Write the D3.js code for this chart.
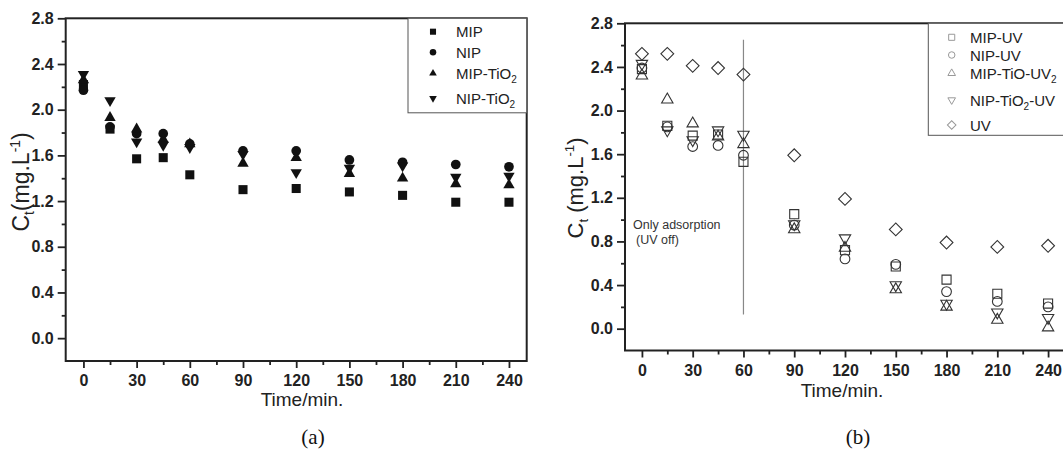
<!DOCTYPE html>
<html>
<head>
<meta charset="utf-8">
<script src="https://cdn.jsdelivr.net/npm/d3@7"></script>
<style>
  body { margin: 0; background: #fff; }
  svg { display: block; font-family: Arial, "Liberation Sans", sans-serif; }
  .tick text { font-size: 16px; font-weight: bold; fill: #222; }
  .tick line { stroke: #222; stroke-width: 1.8; }
</style>
</head>
<body>
<svg id="chart" width="1063" height="453"></svg>
<script>
// sampling times (min)
const times = [0, 15, 30, 45, 60, 90, 120, 150, 180, 210, 240];

// panel (a) - adsorption only
const mip     = [2.22, 1.83, 1.57, 1.58, 1.43, 1.30, 1.31, 1.28, 1.25, 1.19, 1.19];
const nip     = [2.17, 1.85, 1.79, 1.79, 1.70, 1.64, 1.64, 1.56, 1.54, 1.52, 1.50];
const mipTiO2 = [2.26, 1.93, 1.83, 1.74, 1.70, 1.53, 1.58, 1.44, 1.40, 1.35, 1.34];
const nipTiO2 = [2.31, 2.08, 1.72, 1.69, 1.67, 1.61, 1.45, 1.49, 1.51, 1.41, 1.42];

// panel (b) - with UV
const mipUV     = [2.38, 1.86, 1.77, 1.78, 1.53, 1.05, 0.72, 0.57, 0.45, 0.32, 0.23];
const nipUV     = [2.39, 1.85, 1.67, 1.68, 1.59, 0.95, 0.64, 0.59, 0.34, 0.25, 0.20];
const mipTiOUV  = [2.32, 2.10, 1.88, 1.76, 1.69, 0.91, 0.74, 0.36, 0.20, 0.08, 0.01];
const nipTiO2UV = [2.43, 1.82, 1.73, 1.82, 1.78, 0.96, 0.83, 0.40, 0.23, 0.15, 0.10];
const uvOnly    = [2.52, 2.52, 2.41, 2.39, 2.33, 1.59, 1.19, 0.91, 0.79, 0.75, 0.76];

// axis ticks
const xTicks = [0, 30, 60, 90, 120, 150, 180, 210, 240];
const xMinor = [15, 45, 75, 105, 135, 165, 195, 225];
const yTicks = [0, 0.4, 0.8, 1.2, 1.6, 2.0, 2.4, 2.8];
const yMinor = [0.2, 0.6, 1.0, 1.4, 1.8, 2.2, 2.6];

const svg = d3.select("#chart");

// marker shapes
const shapes = {
  square:   {type: d3.symbolSquare,   size: 82, rot: 0},
  circle:   {type: d3.symbolCircle,   size: 74, rot: 0},
  up:       {type: d3.symbolTriangle, size: 56, rot: 0},
  down:     {type: d3.symbolTriangle, size: 56, rot: 180},
  diamond:  {type: d3.symbolSquare,   size: 82, rot: 45}
};

function marker(g, shape, scale) {
  const s = shapes[shape];
  return g.append("path")
    .attr("d", d3.symbol().type(s.type).size(s.size * (scale || 1))())
    .attr("transform", `rotate(${s.rot})`);
}

function drawPanel(p) {
  const x = d3.scaleLinear().domain([-10, 250]).range([p.left, p.right]);
  const y = d3.scaleLinear().domain([-0.2, 2.8]).range([p.bottom, p.top]);
  const g = svg.append("g");

  // axes
  g.append("g").attr("transform", `translate(0,${p.bottom})`)
    .call(d3.axisBottom(x).tickValues(xTicks).tickSize(7).tickPadding(7).tickFormat(d3.format("d")))
    .call(a => a.select(".domain").remove());
  g.append("g").attr("transform", `translate(0,${p.bottom})`)
    .call(d3.axisBottom(x).tickValues(xMinor).tickSize(4).tickFormat(""))
    .call(a => a.select(".domain").remove());
  g.append("g").attr("transform", `translate(${p.left},0)`)
    .call(d3.axisLeft(y).tickValues(yTicks).tickSize(8).tickPadding(4).tickFormat(d3.format(".1f")))
    .call(a => a.select(".domain").remove());
  g.append("g").attr("transform", `translate(${p.left},0)`)
    .call(d3.axisLeft(y).tickValues(yMinor).tickSize(4).tickFormat(""))
    .call(a => a.select(".domain").remove());

  // frame
  g.append("rect")
    .attr("x", x(-10)).attr("y", y(2.8))
    .attr("width", x(250) - x(-10)).attr("height", y(-0.2) - y(2.8))
    .attr("fill", "none").attr("stroke", "#222").attr("stroke-width", 2);

  if (p.extra) p.extra(g, x, y);

  // points
  p.series.forEach(s => {
    s.values.forEach((v, i) => {
      const m = g.append("g").attr("transform", `translate(${x(times[i])},${y(v)})`);
      marker(m, s.shape)
        .attr("fill", p.filled ? "#111" : "none")
        .attr("stroke", p.filled ? "none" : "#333")
        .attr("stroke-width", 1.1);
    });
  });

  // legend
  const lg = g.append("g");
  lg.append("rect")
    .attr("x", p.legend.x).attr("y", y(2.8))
    .attr("width", p.legend.w).attr("height", p.legend.h)
    .attr("fill", "#fff").attr("stroke", "#555").attr("stroke-width", 1);
  p.series.forEach((s, i) => {
    const ly = p.legend.rows[i];
    const m = lg.append("g").attr("transform", `translate(${p.legend.sx},${ly})`);
    marker(m, s.shape, 0.45)
      .attr("fill", p.filled ? "#111" : "none")
      .attr("stroke", p.filled ? "none" : "#999")
      .attr("stroke-width", 1);
    const t = lg.append("text")
      .attr("x", p.legend.tx).attr("y", ly + 5.5)
      .attr("font-size", 15).attr("fill", "#222");
    let shifted = false;
    s.label.forEach(part => {
      if (typeof part === "string") {
        t.append("tspan").attr("dy", shifted ? -4 : 0).text(part);
        shifted = false;
      } else {
        t.append("tspan").attr("font-size", 10).attr("dy", 4).text(part.low);
        shifted = true;
      }
    });
  });

  // axis titles
  g.append("text")
    .attr("x", p.xTitle[0]).attr("y", p.xTitle[1])
    .attr("text-anchor", "middle").attr("font-size", 19).attr("fill", "#222")
    .text("Time/min.");
  const yt = g.append("text")
    .attr("transform", `translate(${p.yTitle[0]},${p.yTitle[1]}) rotate(-90)`)
    .attr("text-anchor", "middle").attr("font-size", p.yFont).attr("fill", "#222");
  yt.append("tspan").text("C");
  yt.append("tspan").attr("font-size", p.yFont * 0.6).attr("dy", 5).text("t");
  yt.append("tspan").attr("dy", -5).text(p.space ? " (mg.L" : "(mg.L");
  yt.append("tspan").attr("font-size", p.yFont * 0.6).attr("dy", -9).text("-1");
  yt.append("tspan").attr("dy", 9).text(")");

  // panel caption
  g.append("text")
    .attr("x", p.caption[0]).attr("y", p.caption[1])
    .attr("text-anchor", "middle")
    .attr("font-family", "'Times New Roman', 'Liberation Serif', serif")
    .attr("font-size", 21).attr("fill", "#111")
    .text(p.caption[2]);
}

drawPanel({
  left: 65.7, right: 526.7, top: 18.3, bottom: 361,
  filled: true,
  series: [
    {values: mip, shape: "square", label: ["MIP"]},
    {values: nip, shape: "circle", label: ["NIP"]},
    {values: mipTiO2, shape: "up", label: ["MIP-TiO", {low: "2"}]},
    {values: nipTiO2, shape: "down", label: ["NIP-TiO", {low: "2"}]}
  ],
  legend: {x: 408, w: 118.7, h: 94.5, sx: 433, tx: 456, rows: [31.7, 52.3, 73.3, 98.3]},
  xTitle: [302, 406],
  yTitle: [29, 182],
  yFont: 23,
  caption: [313, 444, "(a)"]
});

drawPanel({
  left: 625, right: 1065, top: 23.3, bottom: 350.5,
  filled: false,
  space: true,
  series: [
    {values: mipUV, shape: "square", label: ["MIP-UV"]},
    {values: nipUV, shape: "circle", label: ["NIP-UV"]},
    {values: mipTiOUV, shape: "up", label: ["MIP-TiO-UV", {low: "2"}]},
    {values: nipTiO2UV, shape: "down", label: ["NIP-TiO", {low: "2"}, "-UV"]},
    {values: uvOnly, shape: "diamond", label: ["UV"]}
  ],
  legend: {x: 928.3, w: 140, h: 112, sx: 951.7, tx: 970, rows: [37.3, 55, 73.3, 100, 125]},
  xTitle: [842, 397],
  yTitle: [583, 188],
  yFont: 22,
  caption: [858, 444, "(b)"],
  extra: (g, x, y) => {
    // UV switched on at 60 min
    g.append("line")
      .attr("x1", x(60)).attr("x2", x(60))
      .attr("y1", y(2.65)).attr("y2", y(0.13))
      .attr("stroke", "#888").attr("stroke-width", 1.2);
    g.append("text").attr("x", 633).attr("y", 229)
      .attr("font-size", 12.5).attr("fill", "#333").text("Only adsorption");
    g.append("text").attr("x", 636).attr("y", 244)
      .attr("font-size", 12.5).attr("fill", "#333").text("(UV off)");
  }
});
</script>
</body>
</html>
